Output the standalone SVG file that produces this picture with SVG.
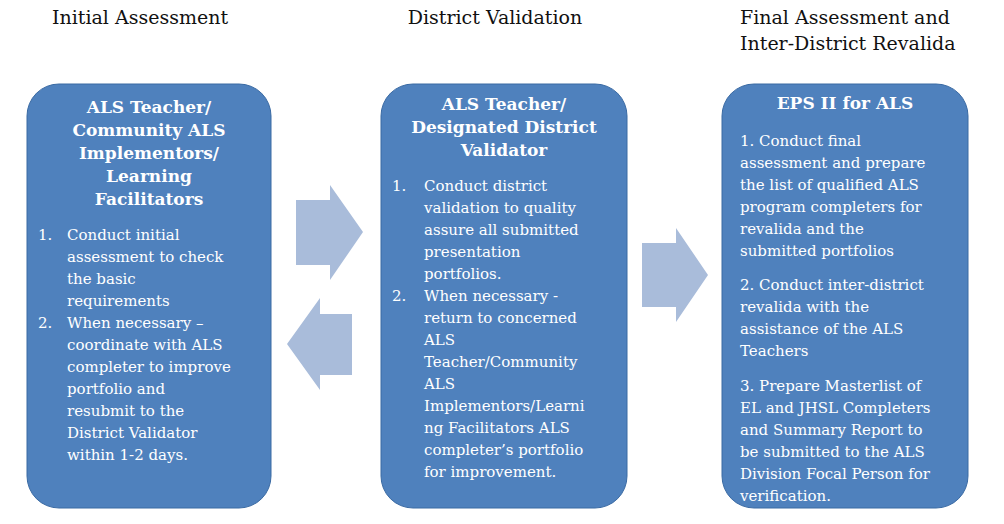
<svg xmlns="http://www.w3.org/2000/svg" width="1004" height="524" viewBox="0 0 1004 524">
<style>
.box{fill:#4f81bd;stroke:#3a6aa3;stroke-width:1}
.arr{fill:#a9bcda}
.h{font-family:"DejaVu Serif","Liberation Serif",serif;font-size:19px;fill:#111}
.t{font-family:"DejaVu Serif","Liberation Serif",serif;font-size:15px;fill:#fff}
.b{font-family:"DejaVu Serif","Liberation Serif",serif;font-size:17px;font-weight:bold;fill:#fff;text-anchor:middle}
</style>
<rect width="1004" height="524" fill="#fff"/>
<g id="headers">
<text class="h" x="140" y="24" text-anchor="middle">Initial Assessment</text>
<text class="h" x="495" y="24" text-anchor="middle">District Validation</text>
<text class="h" x="740" y="24">Final Assessment and</text>
<text class="h" x="740" y="50">Inter-District Revalida</text>
</g>
<g id="connectors">
<polygon class="arr" points="296,200 330,200 330,185 363,232 330,280 330,265 296,265"/>
<polygon class="arr" points="352,314 320,314 320,298 287,344 320,390 320,375 352,375"/>
<polygon class="arr" points="642,243 676,243 676,228 708,275 676,322 676,307 642,307"/>
</g>
<g id="node1">
<rect class="box" x="27" y="84" width="244" height="424" rx="32"/>
<text class="b" x="149" y="113">ALS Teacher/</text>
<text class="b" x="149" y="136">Community ALS</text>
<text class="b" x="149" y="159">Implementors/</text>
<text class="b" x="149" y="182">Learning</text>
<text class="b" x="149" y="205">Facilitators</text>
<text class="t" x="38" y="240">1.</text>
<text class="t" x="67" y="240">Conduct initial</text>
<text class="t" x="67" y="262">assessment to check</text>
<text class="t" x="67" y="284">the basic</text>
<text class="t" x="67" y="306">requirements</text>
<text class="t" x="38" y="328">2.</text>
<text class="t" x="67" y="328">When necessary –</text>
<text class="t" x="67" y="350">coordinate with ALS</text>
<text class="t" x="67" y="372">completer to improve</text>
<text class="t" x="67" y="394">portfolio and</text>
<text class="t" x="67" y="416">resubmit to the</text>
<text class="t" x="67" y="438">District Validator</text>
<text class="t" x="67" y="460">within 1-2 days.</text>
</g>
<g id="node2">
<rect class="box" x="381" y="84" width="246" height="424" rx="32"/>
<text class="b" x="504" y="110">ALS Teacher/</text>
<text class="b" x="504" y="133">Designated District</text>
<text class="b" x="504" y="156">Validator</text>
<text class="t" x="392" y="191">1.</text>
<text class="t" x="424" y="191">Conduct district</text>
<text class="t" x="424" y="213">validation to quality</text>
<text class="t" x="424" y="235">assure all submitted</text>
<text class="t" x="424" y="257">presentation</text>
<text class="t" x="424" y="279">portfolios.</text>
<text class="t" x="392" y="301">2.</text>
<text class="t" x="424" y="301">When necessary -</text>
<text class="t" x="424" y="323">return to concerned</text>
<text class="t" x="424" y="345">ALS</text>
<text class="t" x="424" y="367">Teacher/Community</text>
<text class="t" x="424" y="389">ALS</text>
<text class="t" x="424" y="411">Implementors/Learni</text>
<text class="t" x="424" y="433">ng Facilitators ALS</text>
<text class="t" x="424" y="455">completer’s portfolio</text>
<text class="t" x="424" y="477">for improvement.</text>
</g>
<g id="node3">
<rect class="box" x="722" y="84" width="246" height="424" rx="32"/>
<text class="b" x="845" y="109">EPS II for ALS</text>
<text class="t" x="740" y="146">1.   Conduct final</text>
<text class="t" x="740" y="168">assessment and prepare</text>
<text class="t" x="740" y="190">the list of qualified  ALS</text>
<text class="t" x="740" y="212">program completers for</text>
<text class="t" x="740" y="234">revalida and the</text>
<text class="t" x="740" y="256">submitted portfolios</text>
<text class="t" x="740" y="290">2.   Conduct inter-district</text>
<text class="t" x="740" y="312">revalida with the</text>
<text class="t" x="740" y="334">assistance of the ALS</text>
<text class="t" x="740" y="356">Teachers</text>
<text class="t" x="740" y="391">3.   Prepare Masterlist of</text>
<text class="t" x="740" y="413">EL and JHSL Completers</text>
<text class="t" x="740" y="435">and Summary Report to</text>
<text class="t" x="740" y="457">be submitted to the ALS</text>
<text class="t" x="740" y="479">Division Focal Person for</text>
<text class="t" x="740" y="501">verification.</text>
</g>
</svg>
